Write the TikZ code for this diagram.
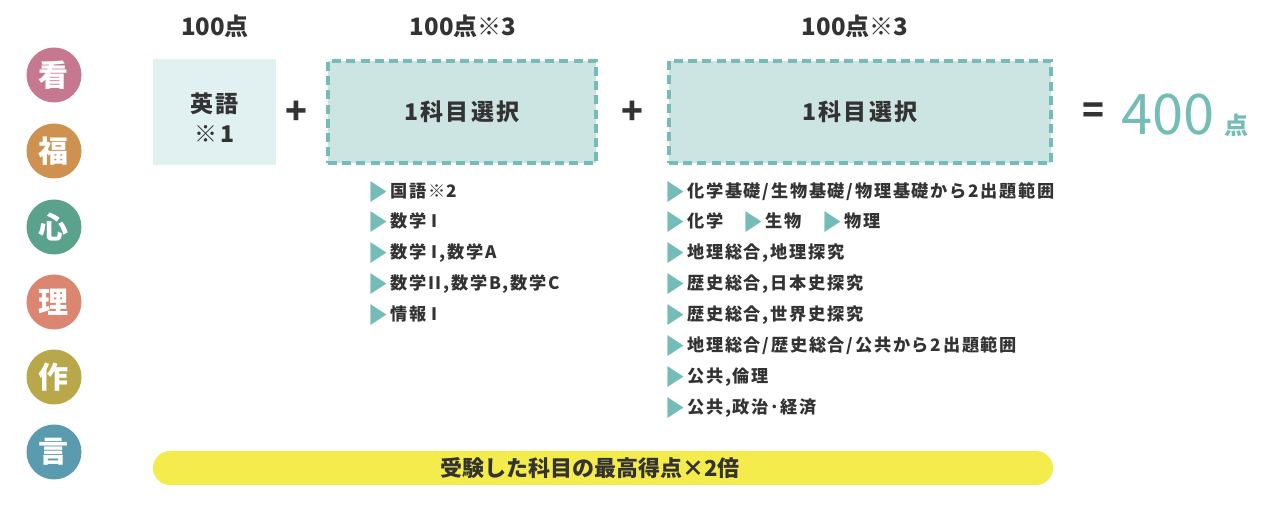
\documentclass[tikz,border=0pt]{standalone}
\usepackage{fontspec}
\usepackage{xcolor}
\usepackage{graphicx}
\setmainfont{Noto Sans CJK JP}
\newfontfamily\listfont[LetterSpace=10]{Noto Sans CJK JP}

\definecolor{textdark}{HTML}{333333}
\definecolor{tealmark}{HTML}{74BCB7}
\definecolor{boxlight}{HTML}{E1F0F0}
\definecolor{boxsel}{HTML}{CCE5E2}
\definecolor{baryellow}{HTML}{F4EB4C}
\definecolor{kancol}{HTML}{C5788F}
\definecolor{fukucol}{HTML}{CF9150}
\definecolor{shincol}{HTML}{5AA28B}
\definecolor{ricol}{HTML}{DB8670}
\definecolor{sakucol}{HTML}{B8A84A}
\definecolor{gencol}{HTML}{5B9BAF}

\newcommand{\tri}{{\color{tealmark}\raisebox{-0.15em}{\scalebox{1.15}[1.3]{▶}}}\kern1pt}

\begin{document}
\begin{tikzpicture}[x=0.5pt,y=-0.5pt,
    gakka/.style={circle,fill=#1,minimum size=27.5pt,inner sep=0pt,text=white,
        font=\bfseries\fontsize{15}{15}\selectfont},
    haiten/.style={text=textdark,font=\bfseries\fontsize{12}{12}\selectfont},
    sentaku/.style={draw=tealmark,line width=2pt,dash pattern=on 4.5pt off 2.6pt,
        fill=boxsel,minimum height=51pt,text=textdark,
        font=\listfont\bfseries\fontsize{11.5}{11.5}\selectfont},
    kigou/.style={text=textdark,font=\bfseries\fontsize{18}{18}\selectfont},
    koumoku/.style={anchor=west,inner sep=0pt,text=textdark,
        font=\listfont\bfseries\fontsize{8.6}{8.6}\selectfont}]

    % Frame
    \useasboundingbox (0,0) rectangle (1280,512);

    % Faculty circles
    \node[gakka=kancol]  (kan)  at (54,75)  {看};
    \node[gakka=fukucol] (fuku) at (54,151) {福};
    \node[gakka=shincol] (shin) at (54,227) {心};
    \node[gakka=ricol]   (ri)   at (54,302) {理};
    \node[gakka=sakucol] (saku) at (54,377) {作};
    \node[gakka=gencol]  (gen)  at (54,452) {言};

    % Scores on top
    \node[haiten] (p1) at (215,26) {100点};
    \node[haiten] (p2) at (463,26) {100点※3};
    \node[haiten] (p3) at (855,26) {100点※3};

    % Boxes
    \node[fill=boxlight,minimum width=61.5pt,minimum height=53pt] (eigo) at (214.5,112) {};
    \node[align=center,text=textdark,font=\listfont\bfseries\fontsize{11.5}{15}\selectfont]
        (eigotext) at (214.5,118) {英語\\※1};
    \node[kigou] (plus1) at (296,113) {+};
    \node[sentaku,minimum width=134pt] (sel1) at (462,112) {1科目選択};
    \node[kigou] (plus2) at (632,113) {+};
    \node[sentaku,minimum width=191pt] (sel2) at (860,112) {1科目選択};
    \node[kigou] (gleich) at (1093,113) {=};

    % Total
    \node[anchor=base west,inner sep=0pt,text=tealmark,font=\fontsize{28}{28}\selectfont]
        (total) at (1121,135) {400\kern5pt{\bfseries\fontsize{12}{12}\selectfont 点}};

    % List under first choice
    \node[koumoku] (a1) at (368,192) {\tri 国語※2};
    \node[koumoku] (a2) at (368,222) {\tri 数学 I};
    \node[koumoku] (a3) at (368,253) {\tri 数学 I,数学A};
    \node[koumoku] (a4) at (368,284) {\tri 数学II,数学B,数学C};
    \node[koumoku] (a5) at (368,315) {\tri 情報 I};

    % List under second choice
    \node[koumoku] (b1) at (665,192) {\tri 化学基礎/生物基礎/物理基礎から2出題範囲};
    \node[koumoku] (b2) at (665,222) {\tri 化学\hspace{1.2em}\tri 生物\hspace{1.2em}\tri 物理};
    \node[koumoku] (b3) at (665,253) {\tri 地理総合,地理探究};
    \node[koumoku] (b4) at (665,284) {\tri 歴史総合,日本史探究};
    \node[koumoku] (b5) at (665,315) {\tri 歴史総合,世界史探究};
    \node[koumoku] (b6) at (665,346) {\tri 地理総合/歴史総合/公共から2出題範囲};
    \node[koumoku] (b7) at (665,377) {\tri 公共,倫理};
    \node[koumoku] (b8) at (665,408) {\tri 公共,政治･経済};

    % Bonus bar
    \node[fill=baryellow,rounded corners=8.5pt,minimum width=450pt,minimum height=17pt,
        inner sep=0pt] (bonus) at (603,468) {};
    \node[text=textdark,font=\bfseries\fontsize{11}{11}\selectfont]
        (bonustext) at (590,468) {受験した科目の最高得点×2倍};
\end{tikzpicture}
\end{document}
